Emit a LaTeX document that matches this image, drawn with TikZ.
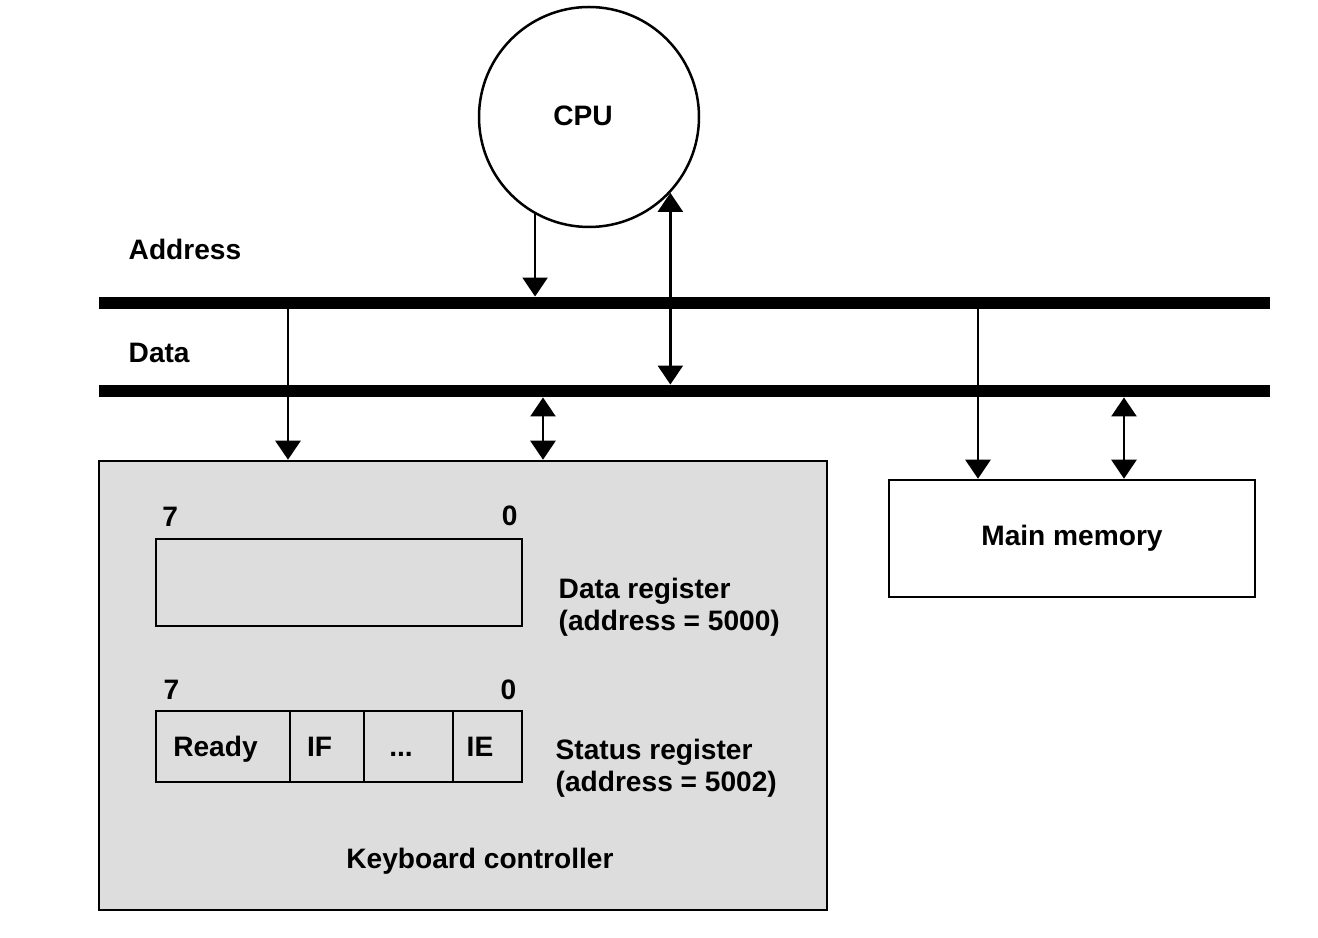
\documentclass[tikz,border=0pt]{standalone}
\usepackage{fontspec}
\setmainfont{Liberation Sans}
\usetikzlibrary{arrows.meta,positioning}
\definecolor{ctrlgray}{RGB}{221,221,221}
\begin{document}
\begin{tikzpicture}
        \tikzstyle{every node}=[font=\fontsize{8}{9.1}\selectfont\bfseries];
        \tikzstyle{box}=[draw, line width=0.025cm, inner sep=0pt];
        \tikzstyle{bus}=[fill=black, inner sep=0pt, minimum width=11.71cm, minimum height=0.115cm];
        \tikzstyle{cell}=[box, outer sep=0pt, minimum height=0.71cm];
        \tikzstyle{celltext}=[inner sep=0pt, text height=0.2cm, text depth=0pt, xshift=-0.075cm];
        \tikzstyle{bitno}=[inner sep=0pt];
        \tikzstyle{arr}=[line width=0.025cm, -{Triangle[length=0.19cm, width=0.25cm]}];
        \tikzstyle{darr}=[line width=0.025cm, {Triangle[length=0.19cm, width=0.25cm]}-{Triangle[length=0.19cm, width=0.25cm]}];
        \useasboundingbox (0,0) rectangle (13.18,9.38);
        % cpu and the two buses
        \node (cpu) [circle, draw, line width=0.025cm, minimum size=2.2cm, inner sep=0pt] at (5.89,8.21) {};
        \node (cputext) [inner sep=0pt] at (5.83,8.22) {CPU};
        \node (abus) [bus] at (6.845,6.35) {};
        \node (dbus) [bus] at (6.845,5.47) {};
        \node (alabel) [anchor=base west, inner sep=0pt] at (1.28,6.78) {Address};
        \node (dlabel) [anchor=base west, inner sep=0pt] at (1.28,5.75) {Data};
        % keyboard controller
        \node (kbd) [box, fill=ctrlgray, minimum width=7.28cm, minimum height=4.49cm] at (4.63,2.525) {};
        \node (dreg) [box, minimum width=3.66cm, minimum height=0.87cm] at (3.39,3.555) {};
        \node [bitno, above right=0.11cm and 0.07cm of dreg.north west] {7};
        \node [bitno, above left=0.11cm and 0.05cm of dreg.north east] {0};
        \node (dtext) [anchor=north west, inner sep=0pt, align=left] at (5.58,3.61) {Data register\\(address = 5000)};
        \node (ready) [cell, minimum width=1.34cm, label={[celltext]center:Ready}] at (2.23,1.915) {};
        \node (iflag) [cell, minimum width=0.74cm, right=0pt of ready, label={[celltext]center:IF}] {};
        \node (dots) [cell, minimum width=0.89cm, right=0pt of iflag, label={[celltext]center:...}] {};
        \node (ieflag) [cell, minimum width=0.69cm, right=0pt of dots, label={[celltext]center:IE}] {};
        \node [bitno, above right=0.11cm and 0.07cm of ready.north west] {7};
        \node [bitno, above left=0.11cm and 0.05cm of ieflag.north east] {0};
        \node (stext) [anchor=north west, inner sep=0pt, align=left] at (5.55,2.00) {Status register\\(address = 5002)};
        \node (ktext) [anchor=base, inner sep=0pt] at (4.80,0.69) {Keyboard controller};
        % main memory
        \node (mem) [box, minimum width=3.66cm, minimum height=1.17cm] at (10.72,3.995) {Main memory};
        % connectors
        \draw[arr] (cpu.241.8) -- (cpu.241.8 |- abus.north);
        \draw[darr] (cpu.317.4) -- (cpu.317.4 |- dbus.north);
        \draw[arr] (abus.south -| 2.88,0) -- (kbd.north -| 2.88,0);
        \draw[darr] (dbus.south -| 5.43,0) -- (kbd.north -| 5.43,0);
        \draw[arr] (abus.south -| 9.78,0) -- (mem.north -| 9.78,0);
        \draw[darr] (dbus.south -| 11.24,0) -- (mem.north -| 11.24,0);
\end{tikzpicture}
\end{document}
